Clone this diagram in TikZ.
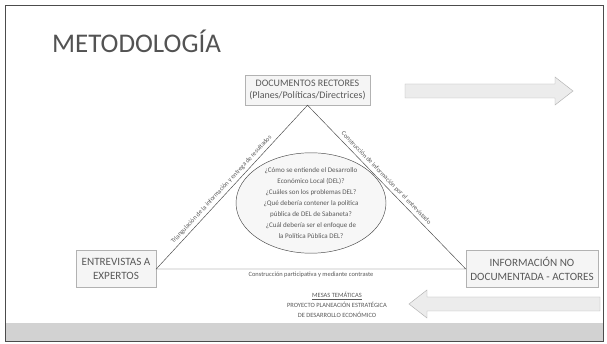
\documentclass[tikz,border=0pt]{standalone}
\usepackage{fontspec}
\setmainfont{Carlito}
\usepackage{tikz}
\usetikzlibrary{shapes.geometric, arrows.meta, positioning, calc}

\begin{document}
\begin{tikzpicture}[x=0.03cm, y=-0.03cm]
\tikzstyle{box} = [rectangle, draw=gray!60, fill=gray!8, text=gray!70!black, align=center, inner sep=2pt]
\tikzstyle{edgelabel} = [text=gray!70!black, font=\fontsize{5.5}{6.5}\selectfont, inner sep=2.5pt]
\tikzstyle{blockarrow} = [draw=gray!60, fill=gray!15]
\useasboundingbox (0,0) rectangle (607,344);
\fill[white] (0,0) rectangle (607,344);
\fill[gray!35] (5,323) rectangle (603,341);
\draw[gray!60!black, thick] (5,5) rectangle (603,341);
\node[anchor=base west, text=gray!65!black, font=\fontsize{23}{28}\selectfont] (title) at (48,53) {METODOLOGÍA};
\node[box, minimum width=3.75cm, minimum height=0.9cm, font=\fontsize{8.5}{10}\selectfont] (docs) at (307.5,90) {DOCUMENTOS RECTORES\\(Planes/Políticas/Directrices)};
\node[box, minimum width=2.4cm, minimum height=1.11cm, font=\fontsize{9.5}{12}\selectfont] (expert) at (116,269) {ENTREVISTAS A\\EXPERTOS};
\node[box, minimum width=3.96cm, minimum height=1.11cm, font=\fontsize{9.5}{12}\selectfont] (info) at (532,269) {INFORMACIÓN NO\\DOCUMENTADA - ACTORES};
\draw[gray!60!black] (docs.south) -- (expert.east) -- (info.west) -- cycle;
\path (expert.east) -- node[edgelabel, sloped, above, pos=0.46] (lblleft) {Triangulación de la información y entrega de resultados} (docs.south);
\path (docs.south) -- node[edgelabel, sloped, above, pos=0.47] (lblright) {Construcción de información por el entrevistado} (info.west);
\path (expert.east) -- node[edgelabel, below] (lblbottom) {Construcción participativa y mediante contraste} (info.west);
\node[ellipse, draw=gray!60!black, fill=gray!6, minimum width=4.5cm, minimum height=3cm, align=center, inner sep=0pt, text=gray!70!black, font=\fontsize{6}{9.4}\selectfont] (questions) at (311,203) {¿Cómo se entiende el Desarrollo\\Económico Local (DEL)?\\¿Cuáles son los problemas DEL?\\¿Qué debería contener la política\\pública de DEL de Sabaneta?\\¿Cuál debería ser el enfoque de\\la Política Pública DEL?};
\fill[blockarrow] (405,84) -- (555,84) -- (555,77) -- (573,91) -- (555,105) -- (555,98) -- (405,98) -- cycle;
\fill[blockarrow] (600,297) -- (427,297) -- (427,290) -- (409,304) -- (427,318) -- (427,311) -- (600,311) -- cycle;
\node[align=center, text=gray!70!black, font=\fontsize{5.5}{8.5}\selectfont] (mesas) at (337,305) {\underline{MESAS TEMÁTICAS}\\PROYECTO PLANEACIÓN ESTRATÉGICA\\DE DESARROLLO ECONÓMICO};
\end{tikzpicture}
\end{document}
